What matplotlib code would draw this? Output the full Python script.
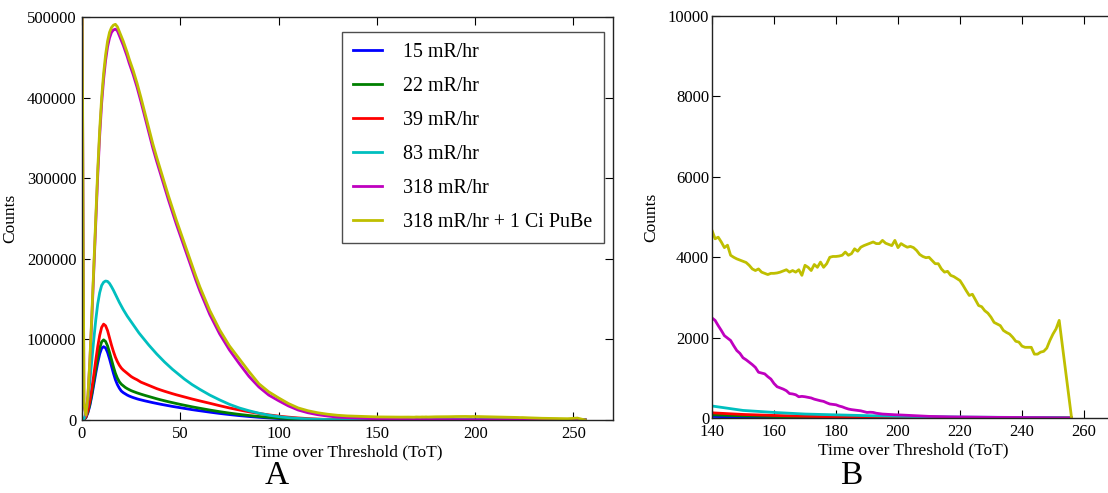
import numpy as np
import matplotlib
matplotlib.use("Agg")
import matplotlib.pyplot as plt

plt.rcParams["font.family"] = ["Liberation Serif", "DejaVu Serif"]

# ── ToT spectra ──────────────────────────────────────────────────────────────
# body of each spectrum (0-135), then a per-bin tail for the two hot runs
# and a coarser tail for the low-dose runs
TOT_BODY = list(range(0, 31)) + list(range(32, 61, 2)) + list(range(65, 136, 5))
TOT_TAIL = list(range(140, 257))
TOT_TAIL_LOW = [140, 150, 160, 170, 180, 190, 200, 210, 220, 230, 240, 250, 256]

LABELS = ["15 mR/hr", "22 mR/hr", "39 mR/hr", "83 mR/hr", "318 mR/hr",
          "318 mR/hr + 1 Ci PuBe"]

blue_body = [0, 500, 3000, 9000, 18000, 30000, 44000, 58000, 71000, 82000,
             89000, 91000, 89500, 84000, 76000, 67000, 58000, 50000, 44000, 39500,
             36000, 34000, 32500, 31000, 29800, 28800, 27900, 27100, 26300, 25600,
             25000,
             23800, 22700, 21600, 20600, 19600, 18700, 17800, 16900, 16100, 15300,
             14500, 13700, 12900, 12200, 11500,
             9800, 8200, 6800, 5500, 4400, 3400, 2600, 1900, 1350, 900,
             600, 380, 240, 150, 90]
blue_tail = [40, 28, 20, 14, 10, 7, 5, 4, 3, 2, 2, 1, 0]

green_body = [0, 600, 3500, 10000, 20000, 33000, 48000, 63000, 77000, 89000,
              97000, 99500, 97500, 92000, 84000, 75000, 66000, 58000, 52000, 47500,
              44500, 42500, 40500, 39000, 37700, 36500, 35500, 34600, 33700, 32900,
              32100,
              30600, 29200, 27800, 26400, 25100, 23900, 22700, 21600, 20500, 19400,
              18400, 17400, 16400, 15500, 14600,
              12400, 10400, 8600, 7000, 5600, 4400, 3300, 2500, 1800, 1200,
              800, 500, 320, 200, 120]
green_tail = [80, 55, 40, 28, 20, 14, 10, 7, 5, 4, 3, 2, 0]

red_body = [0, 700, 4000, 12000, 24000, 39000, 56000, 74000, 91000, 105000,
            115000, 119000, 117000, 111000, 102000, 93000, 85000, 78000, 72500, 68000,
            64500, 62000, 60000, 58000, 56000, 54000, 52500, 51200, 50000, 48500,
            47000,
            45000, 43000, 41000, 39000, 37300, 35700, 34200, 32700, 31300, 30000,
            28700, 27400, 26100, 24900, 23700,
            20800, 17800, 15000, 12500, 10200, 8200, 6400, 4900, 3600, 2600,
            1800, 1200, 750, 450, 260]
red_tail = [130, 90, 65, 45, 30, 20, 15, 10, 8, 5, 4, 3, 0]

cyan_body = [0, 1500, 8000, 25000, 48000, 74000, 100000, 124000, 144000, 158000,
             167000, 171000, 172500, 172000, 169500, 165500, 161000, 156000, 151000,
             146000, 141500, 137000, 133000, 129000, 125500, 122000, 118500, 115000,
             111500, 108000, 105000,
             99000, 93000, 87500, 82000, 77000, 72000, 67500, 63000, 59000, 55000,
             51000, 47500, 44000, 41000, 38000,
             31000, 25000, 19500, 15000, 11500, 8500, 6000, 4200, 2900, 2000,
             1300, 900, 650, 480, 380]
cyan_tail = [300, 190, 140, 100, 80, 60, 45, 35, 25, 20, 15, 10, 0]

magenta_body = [540000, 19000, 5500, 28000, 72000, 126000, 185000, 244000, 303000,
                353000, 393000, 423000, 446000, 463000, 474000, 481000, 484000,
                485000, 483000, 477000, 471000, 465000, 458000, 451000, 443000,
                436000, 429000, 421000, 413000, 404000, 395000,
                376000, 357000, 338000, 321000, 305000, 289000, 273000, 258000,
                243000, 229000, 215000, 201000, 187000, 173000, 160000,
                131000, 107000, 87000, 70000, 54000, 41000, 31000, 24000, 17500,
                12400, 9000, 6600, 4900, 3700, 3000]
magenta_tail = [2490, 2430, 2300, 2180, 2050, 1990, 1930, 1800, 1680, 1610,
                1500, 1450, 1390, 1330, 1260, 1140, 1120, 1100, 1030, 970,
                860, 780, 750, 720, 680, 610, 600, 580, 530, 540,
                530, 515, 500, 470, 450, 430, 415, 380, 350, 340,
                330, 300, 280, 250, 225, 210, 200, 190, 180, 160,
                140, 145, 140, 120, 110, 100, 95, 90, 85, 82,
                80, 76, 72, 68, 64, 60, 57, 54, 50, 46,
                42, 40, 38, 36, 34, 32, 31, 30, 29, 28,
                27, 26, 25, 24, 23, 22, 21, 20, 20, 19,
                18, 18, 17, 17, 16, 16, 15, 15, 14, 14,
                13, 13, 12, 12, 11, 11, 10, 10, 9, 9,
                8, 8, 7, 6, 5, 4, 0]

yellow_body = [560000, 20000, 6000, 30000, 75000, 130000, 190000, 250000, 310000,
               360000, 400000, 430000, 453000, 470000, 481000, 487000, 490000,
               491000, 488000, 482000, 476000, 470000, 463000, 456000, 448000,
               441000, 434000, 426000, 418000, 409000, 400000,
               381000, 362000, 343000, 326000, 310000, 294000, 278000, 263000,
               248000, 234000, 220000, 206000, 192000, 178000, 165000,
               136000, 112000, 92000, 76000, 60000, 45000, 35000, 27500, 20500,
               15000, 11500, 9000, 7200, 5900, 5100]
yellow_tail = [4670, 4460, 4500, 4380, 4240, 4300, 4050, 4000, 3960, 3930,
               3900, 3870, 3800, 3710, 3670, 3710, 3630, 3600, 3570, 3600,
               3600, 3610, 3630, 3660, 3690, 3630, 3670, 3630, 3690, 3550,
               3800, 3750, 3670, 3820, 3750, 3880, 3750, 3840, 4000, 4020,
               4020, 4030, 4050, 4130, 4050, 4090, 4210, 4150, 4250, 4290,
               4320, 4350, 4380, 4340, 4340, 4420, 4350, 4320, 4290, 4420,
               4240, 4340, 4290, 4250, 4270, 4240, 4170, 4070, 4020, 3990,
               4000, 3920, 3840, 3840, 3710, 3630, 3650, 3550, 3520, 3470,
               3420, 3300, 3170, 3050, 3080, 2940, 2800, 2770, 2670, 2610,
               2510, 2380, 2340, 2300, 2180, 2130, 2090, 2010, 1910, 1890,
               1790, 1760, 1760, 1760, 1590, 1590, 1640, 1660, 1740, 1930,
               2090, 2220, 2430, 1820, 1210, 600, 0]

COLORS = ["b", "g", "r", "c", "m", "y"]
SERIF = ["Liberation Serif", "DejaVu Serif"]


def build_series():
    low = [(blue_body, blue_tail), (green_body, green_tail),
           (red_body, red_tail), (cyan_body, cyan_tail)]
    hot = [(magenta_body, magenta_tail), (yellow_body, yellow_tail)]
    out = []
    for body, tail in low:
        out.append((np.array(TOT_BODY + TOT_TAIL_LOW), np.array(body + tail)))
    for body, tail in hot:
        out.append((np.array(TOT_BODY + TOT_TAIL), np.array(body + tail)))
    return out


def style_axis(ax, right=True):
    ax.tick_params(direction="in", top=True, right=right, length=6,
                   width=0.8, labelsize=12, pad=4)
    for sp in ax.spines.values():
        sp.set_linewidth(1.0)
        sp.set_color("#222222")
    ax.ticklabel_format(axis="y", style="plain", useOffset=False)
    for t in ax.get_xticklabels() + ax.get_yticklabels():
        t.set_family(SERIF)


series = build_series()

fig = plt.figure(figsize=(11.08, 4.93), dpi=100)

# ── Panel A: full spectrum ───────────────────────────────────────────────────
ax_a = fig.add_axes([0.074, 0.148, 0.479, 0.8174])
for (x, y), c, lab in zip(series, COLORS, LABELS):
    ax_a.plot(x, y, color=c, linewidth=2, label=lab)
ax_a.set_xlim(0, 270)
ax_a.set_ylim(0, 500000)
ax_a.set_xticks([0, 50, 100, 150, 200, 250])
ax_a.set_yticks(np.arange(0, 500001, 100000))
style_axis(ax_a)
ax_a.set_xlabel("Time over Threshold (ToT)", fontsize=12.5, labelpad=2)
ax_a.set_ylabel("Counts", fontsize=12.5, labelpad=6)
leg = ax_a.legend(loc="upper right", bbox_to_anchor=(0.983, 0.962),
                  fontsize=14.4, frameon=True, fancybox=False,
                  handlelength=1.45, handletextpad=1.05, labelspacing=0.75,
                  borderpad=0.55, borderaxespad=0)
leg.get_frame().set_edgecolor("#222222")
leg.get_frame().set_linewidth(1.0)

# ── Panel B: high-ToT tail ───────────────────────────────────────────────────
ax_b = fig.add_axes([0.6426, 0.152, 0.3637, 0.8154])
for (x, y), c in zip(series, COLORS):
    ax_b.plot(x, y, color=c, linewidth=2)
ax_b.set_xlim(140, 270)
ax_b.set_ylim(0, 10000)
ax_b.set_xticks(np.arange(140, 261, 20))
ax_b.set_yticks(np.arange(0, 10001, 2000))
style_axis(ax_b, right=False)
ax_b.tick_params(axis="y", pad=2)
ax_b.set_xlabel("Time over Threshold (ToT)", fontsize=12.5, labelpad=2)
ax_b.set_ylabel("Counts", fontsize=12.5, labelpad=6)

fig.text(0.25, 0.005, "A", fontsize=24, ha="center", va="bottom")
fig.text(0.768, 0.005, "B", fontsize=24, ha="center", va="bottom")

fig.savefig("out.png", dpi=100)
